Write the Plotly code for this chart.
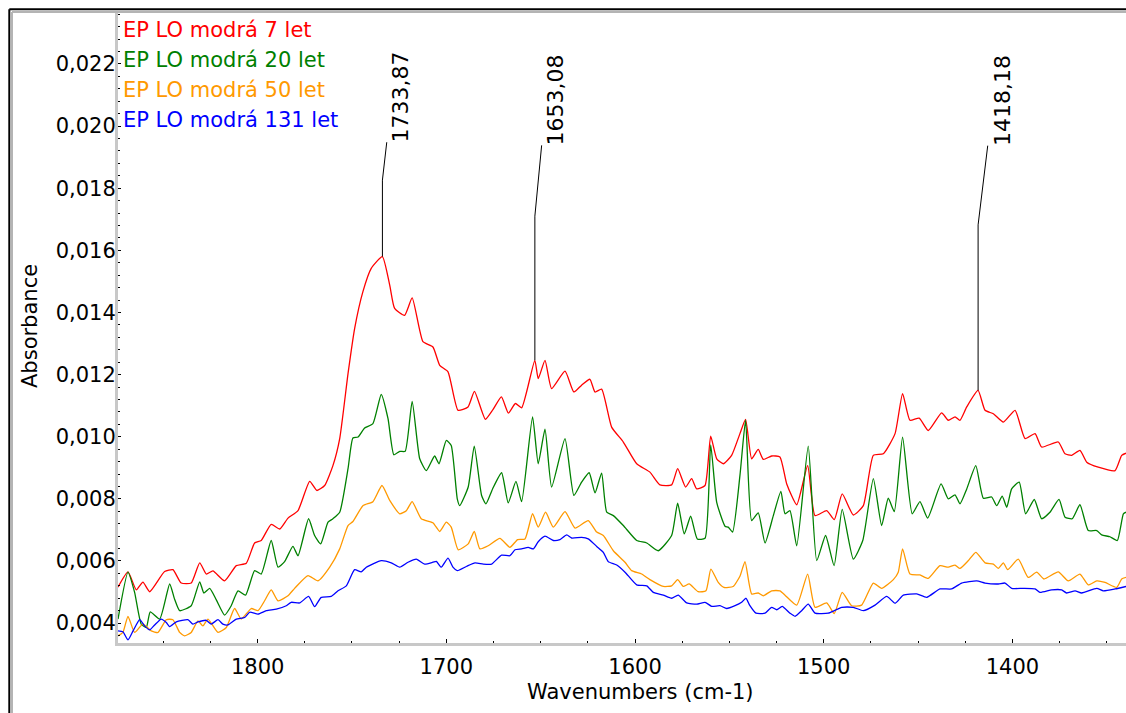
import plotly.graph_objects as go

# ---------------- data (wavenumber cm-1, absorbance) ----------------
RED_7 = [(1874.0,0.00516),(1868.7,0.00565),(1864.3,0.00507),(1860.8,0.00532),(1857.2,0.00501),(1849.3,0.00566),
 (1844.9,0.00572),(1840.5,0.00529),(1835.2,0.00529),(1830.7,0.00594),(1827.2,0.00558),(1823.7,0.00568),(1817.5,0.00536),
 (1811.3,0.00585),(1806.0,0.00593),(1801.6,0.00658),(1798.1,0.00666),(1792.8,0.00718),(1788.3,0.00703),(1783.9,0.00738),
 (1778.6,0.00762),(1772.4,0.00856),(1768.6,0.00827),(1764.5,0.00843),(1760.1,0.00907),(1756.5,0.00994),(1752.1,0.01203),
 (1748.6,0.01348),(1744.2,0.01467),(1739.8,0.01542),(1733.9,0.01580),(1730.0,0.01488),(1727.4,0.01413),(1722.1,0.01391),
 (1718.1,0.01447),(1712.4,0.01306),(1707.1,0.01289),(1703.5,0.01230),(1699.1,0.01209),(1693.8,0.01085),(1688.5,0.01096),
 (1685.1,0.01146),(1679.3,0.01056),(1675.3,0.01087),(1670.8,0.01128),(1667.1,0.01076),(1663.4,0.01107),(1660.1,0.01093),
 (1653.1,0.01246),(1651.3,0.01187),(1647.7,0.01246),(1644.2,0.01155),(1637.1,0.01211),(1632.4,0.01144),(1628.3,0.01166),
 (1623.9,0.01185),(1621.2,0.01144),(1617.7,0.01153),(1612.4,0.01031),(1606.2,0.00983),(1599.1,0.00913),(1592.1,0.00886),
 (1586.8,0.00845),(1580.6,0.00845),(1577.4,0.00897),(1573.2,0.00838),(1570.0,0.00865),(1567.3,0.00832),(1562.9,0.00843),
 (1559.9,0.01002),(1556.7,0.00929),(1553.2,0.00913),(1548.8,0.00940),(1544.4,0.01010),(1541.4,0.01056),(1538.2,0.00929),
 (1534.7,0.00959),(1532.0,0.00927),(1527.6,0.00938),(1523.2,0.00935),(1519.6,0.00848),(1514.3,0.00781),(1508.5,0.00907),
 (1504.6,0.00746),(1498.4,0.00762),(1494.4,0.00733),(1490.2,0.00816),(1484.3,0.00748),(1479.0,0.00778),(1473.7,0.00940),
 (1468.4,0.00945),(1462.2,0.01010),(1458.2,0.01139),(1454.3,0.01053),(1449.4,0.01060),(1444.6,0.01020),(1437.5,0.01077),
 (1434.0,0.01053),(1430.4,0.01064),(1427.8,0.01053),(1424.2,0.01096),(1418.2,0.01149),(1414.5,0.01085),(1410.1,0.01074),
 (1404.8,0.01047),(1398.6,0.01085),(1393.3,0.00994),(1388.0,0.01010),(1384.5,0.00967),(1375.7,0.00983),(1372.1,0.00945),
 (1368.6,0.00940),(1364.2,0.00956),(1360.6,0.00918),(1354.5,0.00902),(1345.6,0.00891),(1342.1,0.00940),(1339.8,0.00947)]

GREEN_20 = [(1874.0,0.00413),(1868.7,0.00564),(1865.2,0.00499),(1861.7,0.00397),(1859.0,0.00386),(1856.9,0.00436),
 (1851.9,0.00413),(1846.6,0.00526),(1844.0,0.00477),(1841.3,0.00440),(1835.2,0.00456),(1830.7,0.00533),(1828.5,0.00497),
 (1825.4,0.00512),(1821.9,0.00475),(1817.5,0.00426),(1814.0,0.00456),(1810.4,0.00504),(1806.4,0.00490),(1801.6,0.00569),
 (1798.1,0.00558),(1792.8,0.00666),(1789.2,0.00580),(1785.7,0.00598),(1781.3,0.00647),(1778.6,0.00617),(1773.0,0.00736),
 (1769.8,0.00682),(1766.6,0.00655),(1762.7,0.00725),(1760.1,0.00736),(1756.5,0.00757),(1752.1,0.00897),(1749.5,0.00996),
 (1746.8,0.00999),(1743.3,0.01028),(1738.9,0.01042),(1734.5,0.01136),(1730.9,0.01058),(1727.8,0.00942),(1724.7,0.00953),
 (1721.8,0.00953),(1718.1,0.01114),(1714.1,0.00929),(1710.6,0.00891),(1706.2,0.00938),(1703.9,0.00913),(1700.0,0.00988),
 (1697.4,0.00972),(1694.2,0.00800),(1692.9,0.00778),(1688.4,0.00838),(1685.2,0.00970),(1681.3,0.00811),(1679.0,0.00784),
 (1675.5,0.00832),(1670.7,0.00884),(1667.2,0.00787),(1663.1,0.00856),(1660.1,0.00791),(1654.3,0.01064),(1651.3,0.00913),
 (1647.7,0.01024),(1644.2,0.00838),(1637.1,0.00994),(1632.4,0.00811),(1628.3,0.00854),(1624.3,0.00884),(1621.2,0.00819),
 (1617.7,0.00883),(1615.0,0.00757),(1611.5,0.00746),(1606.2,0.00714),(1599.1,0.00666),(1593.8,0.00658),(1587.7,0.00633),
 (1580.6,0.00682),(1577.4,0.00786),(1573.9,0.00687),(1570.5,0.00744),(1567.0,0.00671),(1562.9,0.00673),(1559.9,0.00974),
 (1556.7,0.00789),(1552.3,0.00712),(1550.6,0.00709),(1548.3,0.00693),(1544.4,0.00875),(1541.4,0.01053),(1538.2,0.00730),
 (1534.7,0.00755),(1531.1,0.00658),(1526.7,0.00746),(1522.7,0.00824),(1520.5,0.00752),(1517.9,0.00762),(1514.3,0.00649),
 (1508.2,0.00970),(1503.7,0.00601),(1499.0,0.00682),(1494.5,0.00585),(1490.2,0.00766),(1484.3,0.00606),(1479.3,0.00666),
 (1473.7,0.00865),(1469.3,0.00714),(1465.8,0.00802),(1462.6,0.00759),(1458.2,0.00999),(1453.1,0.00752),(1449.0,0.00791),
 (1444.9,0.00738),(1437.8,0.00848),(1434.0,0.00800),(1430.4,0.00813),(1427.8,0.00784),(1424.2,0.00832),(1419.4,0.00907),
 (1415.4,0.00802),(1411.0,0.00806),(1408.3,0.00778),(1405.4,0.00809),(1403.0,0.00773),(1400.4,0.00832),(1396.4,0.00854),
 (1393.0,0.00752),(1388.4,0.00798),(1384.5,0.00736),(1380.1,0.00757),(1375.3,0.00798),(1372.1,0.00741),(1368.3,0.00736),
 (1364.2,0.00781),(1359.8,0.00698),(1355.3,0.00698),(1352.7,0.00684),(1348.3,0.00678),(1344.4,0.00666),(1341.2,0.00752),
 (1339.8,0.00757)]

ORANGE_50 = [(1874.0,0.00359),(1871.4,0.00370),(1868.7,0.00422),(1865.2,0.00370),(1860.8,0.00397),(1856.4,0.00375),
 (1852.8,0.00370),(1848.4,0.00411),(1844.9,0.00411),(1841.3,0.00370),(1838.7,0.00359),(1835.2,0.00370),(1831.6,0.00407),
 (1829.0,0.00391),(1826.3,0.00413),(1821.0,0.00370),(1816.6,0.00386),(1812.2,0.00447),(1808.7,0.00413),(1803.4,0.00447),
 (1799.8,0.00440),(1796.3,0.00472),(1792.8,0.00507),(1789.2,0.00472),(1783.9,0.00488),(1780.4,0.00512),(1773.3,0.00553),
 (1768.0,0.00536),(1761.8,0.00580),(1756.5,0.00639),(1752.1,0.00714),(1749.5,0.00727),(1744.2,0.00778),(1738.9,0.00791),
 (1734.1,0.00843),(1730.0,0.00795),(1724.7,0.00752),(1721.2,0.00762),(1718.1,0.00791),(1713.3,0.00736),(1707.1,0.00723),
 (1703.5,0.00695),(1700.0,0.00725),(1697.4,0.00709),(1693.7,0.00636),(1688.4,0.00655),(1685.2,0.00695),(1682.2,0.00639),
 (1677.8,0.00649),(1671.6,0.00673),(1666.3,0.00644),(1662.2,0.00669),(1658.3,0.00671),(1654.3,0.00752),(1651.3,0.00709),
 (1647.4,0.00757),(1643.3,0.00709),(1637.1,0.00759),(1631.8,0.00706),(1624.8,0.00730),(1620.3,0.00693),(1616.8,0.00682),
 (1611.5,0.00633),(1605.3,0.00596),(1601.8,0.00569),(1596.5,0.00558),(1592.1,0.00540),(1585.0,0.00518),(1580.6,0.00520),
 (1577.4,0.00540),(1574.4,0.00518),(1571.3,0.00526),(1566.5,0.00501),(1562.4,0.00504),(1559.8,0.00574),(1555.9,0.00531),
 (1552.9,0.00515),(1548.0,0.00518),(1544.4,0.00551),(1541.7,0.00598),(1538.2,0.00494),(1534.7,0.00497),(1532.0,0.00488),
 (1527.6,0.00504),(1523.2,0.00504),(1520.5,0.00490),(1514.3,0.00458),(1508.5,0.00558),(1504.6,0.00451),(1498.4,0.00465),
 (1494.4,0.00431),(1490.2,0.00499),(1485.2,0.00456),(1479.9,0.00458),(1473.7,0.00529),(1469.3,0.00512),(1463.1,0.00540),
 (1460.5,0.00564),(1458.2,0.00639),(1454.3,0.00558),(1449.0,0.00555),(1444.6,0.00544),(1438.4,0.00585),(1434.0,0.00580),
 (1430.4,0.00587),(1427.8,0.00576),(1423.4,0.00601),(1419.4,0.00628),(1414.5,0.00594),(1410.1,0.00590),(1407.5,0.00576),
 (1404.8,0.00594),(1402.5,0.00572),(1396.9,0.00606),(1391.6,0.00547),(1387.1,0.00564),(1383.3,0.00542),(1375.7,0.00565),
 (1370.4,0.00536),(1364.2,0.00558),(1359.8,0.00523),(1355.3,0.00536),(1350.9,0.00531),(1344.7,0.00515),(1342.1,0.00542),
 (1339.8,0.00547)]

BLUE_131 = [(1874.0,0.00375),(1871.4,0.00372),(1868.7,0.00346),(1866.0,0.00375),(1862.5,0.00411),(1859.9,0.00391),
 (1857.2,0.00378),(1854.6,0.00394),(1851.1,0.00413),(1848.4,0.00402),(1846.6,0.00389),(1843.1,0.00404),(1837.0,0.00411),
 (1834.3,0.00397),(1831.6,0.00404),(1827.2,0.00409),(1824.6,0.00397),(1821.0,0.00411),(1818.4,0.00397),(1815.7,0.00394),
 (1811.3,0.00413),(1806.9,0.00418),(1804.2,0.00435),(1799.8,0.00429),(1795.4,0.00440),(1790.1,0.00445),(1784.8,0.00456),
 (1782.2,0.00467),(1777.7,0.00465),(1773.0,0.00486),(1769.8,0.00453),(1766.3,0.00483),(1761.0,0.00486),(1757.4,0.00504),
 (1753.0,0.00520),(1748.6,0.00572),(1745.1,0.00565),(1742.4,0.00580),(1734.5,0.00601),(1729.2,0.00594),(1724.7,0.00580),
 (1720.3,0.00596),(1715.9,0.00606),(1711.5,0.00590),(1707.1,0.00596),(1705.3,0.00599),(1702.7,0.00580),(1699.1,0.00609),
 (1696.5,0.00580),(1694.2,0.00569),(1689.2,0.00583),(1684.8,0.00594),(1680.4,0.00590),(1676.0,0.00590),(1670.7,0.00619),
 (1666.3,0.00617),(1663.6,0.00636),(1660.1,0.00639),(1656.6,0.00644),(1653.9,0.00639),(1651.3,0.00662),(1647.7,0.00680),
 (1643.3,0.00666),(1639.8,0.00669),(1636.2,0.00684),(1633.6,0.00674),(1628.3,0.00676),(1624.8,0.00671),(1620.3,0.00647),
 (1616.8,0.00628),(1614.2,0.00598),(1609.7,0.00587),(1605.3,0.00564),(1599.1,0.00523),(1593.8,0.00520),(1590.3,0.00499),
 (1585.0,0.00490),(1580.6,0.00480),(1577.1,0.00490),(1572.6,0.00465),(1567.3,0.00461),(1562.9,0.00467),(1559.4,0.00454),
 (1555.0,0.00456),(1551.4,0.00447),(1547.0,0.00456),(1543.5,0.00467),(1541.2,0.00480),(1539.1,0.00456),(1535.9,0.00432),
 (1531.1,0.00432),(1527.6,0.00451),(1524.9,0.00443),(1522.0,0.00454),(1517.9,0.00432),(1515.2,0.00422),(1511.7,0.00440),
 (1508.2,0.00461),(1504.6,0.00432),(1497.6,0.00432),(1494.4,0.00440),(1490.5,0.00451),(1484.3,0.00451),(1479.0,0.00440),
 (1472.8,0.00458),(1466.6,0.00486),(1462.2,0.00464),(1457.8,0.00490),(1450.7,0.00494),(1445.4,0.00483),(1438.4,0.00510),
 (1432.2,0.00510),(1426.9,0.00529),(1418.9,0.00536),(1414.5,0.00529),(1407.5,0.00526),(1403.9,0.00529),(1400.4,0.00512),
 (1394.2,0.00512),(1388.0,0.00510),(1385.4,0.00499),(1379.2,0.00507),(1373.9,0.00507),(1371.3,0.00497),(1366.8,0.00504),
 (1363.3,0.00497),(1355.3,0.00512),(1351.8,0.00504),(1345.6,0.00510),(1339.8,0.00518)]

SERIES = [RED_7, GREEN_20, ORANGE_50, BLUE_131]
SERIES_NAMES = ["EP LO modrá 7 let", "EP LO modrá 20 let", "EP LO modrá 50 let", "EP LO modrá 131 let"]
SERIES_COLORS = ["#ff0000", "#008000", "#ff9900", "#0000ff"]

PEAK_WN = [1733.87, 1653.08, 1418.18]
PEAK_LABELS = ["1733,87", "1653,08", "1418,18"]
PEAK_ABS = [0.01580, 0.01246, 0.01149]
LEADER_BEND_ABS = [0.01826, 0.01710, 0.01682]
LEADER_END_ABS = [0.01948, 0.01938, 0.01937]
LEADER_END_DWN = [-2.3, -3.6, -5.1]

X_RANGE = [1874.0, 1339.8]
Y_RANGE = [0.00336, 0.02364]

# ---------------- layout geometry (pixels) ----------------
W, H = 1126, 713
ML, MR, MT, MB = 118, 0, 13, 70
PW, PH = W - ML - MR, H - MT - MB
FONT = "DejaVu Sans"


def px2x(px):
    return (px - ML) / PW


def py2y(py):
    return (H - MB - py) / PH


fig = go.Figure()
for data, name, color in zip(SERIES, SERIES_NAMES, SERIES_COLORS):
    fig.add_trace(go.Scatter(
        x=[p[0] for p in data], y=[p[1] for p in data], mode="lines", name=name,
        line=dict(color=color, width=1.3, shape="spline", smoothing=0.5),
        showlegend=False, hoverinfo="skip"))

shapes = []
annotations = []
for wn, lab, pa, bend, end, dwn in zip(PEAK_WN, PEAK_LABELS, PEAK_ABS, LEADER_BEND_ABS,
                                        LEADER_END_ABS, LEADER_END_DWN):
    shapes.append(dict(type="path", xref="x", yref="y",
                       path=f"M {wn},{pa} L {wn},{bend} L {wn + dwn},{end}",
                       line=dict(color="black", width=1)))
    annotations.append(dict(x=wn + dwn, y=end, xref="x", yref="y", text=lab, showarrow=False,
                            textangle=-90, xanchor="center", yanchor="bottom", xshift=14, yshift=-2,
                            font=dict(family=FONT, size=22, color="black")))

# legend as coloured text
for i, (name, color) in enumerate(zip(SERIES_NAMES, SERIES_COLORS)):
    annotations.append(dict(x=px2x(121), y=py2y(30 + 30 * i), xref="paper", yref="paper", text=name,
                            showarrow=False, xanchor="left", yanchor="middle",
                            font=dict(family=FONT, size=21, color=color)))

# axis titles
annotations.append(dict(x=px2x(640), y=py2y(692), xref="paper", yref="paper", text="Wavenumbers (cm-1)",
                        showarrow=False, xanchor="center", yanchor="middle",
                        font=dict(family=FONT, size=21, color="black")))
annotations.append(dict(x=px2x(30), y=py2y(326), xref="paper", yref="paper", text="Absorbance",
                        showarrow=False, textangle=-90, xanchor="center", yanchor="middle",
                        font=dict(family=FONT, size=21, color="black")))

# outer frame (double line, left and top)
shapes.append(dict(type="line", xref="paper", yref="paper", x0=px2x(9.3), x1=px2x(9.3), y0=py2y(H + 5), y1=py2y(9.3),
                   line=dict(color="black", width=2)))
shapes.append(dict(type="line", xref="paper", yref="paper", x0=px2x(9.3), x1=px2x(W + 5), y0=py2y(9.3), y1=py2y(9.3),
                   line=dict(color="black", width=2)))
shapes.append(dict(type="line", xref="paper", yref="paper", x0=px2x(12), x1=px2x(12), y0=py2y(H + 5), y1=py2y(12),
                   line=dict(color="#b4b4b4", width=2)))
shapes.append(dict(type="line", xref="paper", yref="paper", x0=px2x(12), x1=px2x(W + 5), y0=py2y(12), y1=py2y(12),
                   line=dict(color="#b4b4b4", width=2)))

fig.update_layout(
    width=W, height=H, margin=dict(l=ML, r=MR, t=MT, b=MB, pad=0),
    paper_bgcolor="white", plot_bgcolor="white", separators=", ",
    font=dict(family=FONT, size=21, color="black"),
    shapes=shapes, annotations=annotations, showlegend=False,
    xaxis=dict(range=X_RANGE, showgrid=False, zeroline=False, showline=True, linecolor="#c8c8c8", linewidth=3,
               ticks="inside", ticklen=4, tickwidth=1, tickcolor="black", dtick=100, tick0=0,
               minor=dict(ticks="inside", ticklen=2, tickwidth=1, tickcolor="black", dtick=25, showgrid=False),
               tickfont=dict(family=FONT, size=21), ticklabelstandoff=3),
    yaxis=dict(range=Y_RANGE, showgrid=False, zeroline=False, showline=True, linecolor="#c8c8c8", linewidth=3,
               ticks="inside", ticklen=3, tickwidth=1, tickcolor="black", dtick=0.002, tick0=0, tickformat=".3f",
               minor=dict(ticks="inside", ticklen=2, tickwidth=1, tickcolor="black", dtick=0.0004, showgrid=False),
               tickfont=dict(family=FONT, size=21), ticklabelstandoff=-5),
)

fig.write_html("out.html")
